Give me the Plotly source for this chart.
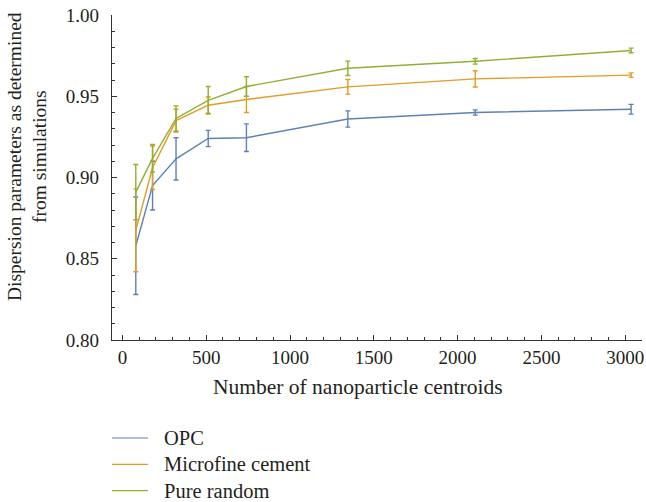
import plotly.graph_objects as go

# Number of nanoparticle centroids per simulation
centroids = [80, 180, 320, 512, 740, 1345, 2105, 3035]

# Mean dispersion parameter and standard deviation for each cement type
opc_mean = [0.858, 0.895, 0.9115, 0.924, 0.9245, 0.936, 0.940, 0.942]
opc_err = [0.030, 0.015, 0.013, 0.005, 0.0085, 0.005, 0.0016, 0.003]

micro_mean = [0.8675, 0.906, 0.935, 0.9445, 0.948, 0.9558, 0.9607, 0.963]
micro_err = [0.0255, 0.0134, 0.007, 0.005, 0.008, 0.0045, 0.005, 0.0014]

rand_mean = [0.891, 0.9118, 0.9363, 0.9475, 0.956, 0.9672, 0.9715, 0.9782]
rand_err = [0.017, 0.0085, 0.0078, 0.0085, 0.006, 0.0044, 0.0017, 0.0014]

series = [
    ("OPC", opc_mean, opc_err, "#5E81B5"),
    ("Microfine cement", micro_mean, micro_err, "#E19C24"),
    ("Pure random", rand_mean, rand_err, "#8FB032"),
]

FONT = "Liberation Serif"
TEXT = "#231f20"
W, H = 646, 502
L, R, T, B = 112, 4, 15, 162
PW, PH = W - L - R, H - T - B

fig = go.Figure()
for name, mean, err, color in series:
    fig.add_trace(go.Scatter(
        x=centroids, y=mean, name=name, mode="lines",
        line=dict(color=color, width=1.4),
        error_y=dict(type="data", array=err, visible=True,
                     color=color, thickness=1.4, width=2.5),
        showlegend=False,
    ))

# Legend below the chart: a short coloured line and the series name per row
LEG_X0, LEG_X1, LEG_TEXT_X = 112, 148, 162
LEG_Y0, LEG_DY = 438, 26.3
for i, (name, _, _, color) in enumerate(series):
    yy = LEG_Y0 + i * LEG_DY
    fig.add_shape(
        type="line", xref="paper", yref="paper",
        x0=(LEG_X0 - L) / PW, x1=(LEG_X1 - L) / PW,
        y0=((H - B) - yy) / PH, y1=((H - B) - yy) / PH,
        line=dict(color=color, width=1.2),
    )
    fig.add_annotation(
        text=name, xref="paper", yref="paper",
        x=(LEG_TEXT_X - L) / PW, y=((H - B) - yy) / PH,
        xanchor="left", yanchor="middle", showarrow=False,
        font=dict(family=FONT, size=20.5, color=TEXT),
    )

axis_common = dict(
    showline=True, linecolor="#333333", linewidth=1.2,
    ticks="inside", ticklen=5, tickwidth=1, tickcolor="#333333",
    showgrid=False, zeroline=False, automargin=False,
    tickfont=dict(family=FONT, size=19, color=TEXT),
)

fig.update_xaxes(
    range=[-62, 3100], tickvals=[0, 500, 1000, 1500, 2000, 2500, 3000],
    ticklabelstandoff=0,
    minor=dict(ticks="inside", ticklen=3, dtick=100, tick0=0,
               tickcolor="#333333", showgrid=False),
    **axis_common,
)
fig.update_yaxes(
    range=[0.80, 1.00], dtick=0.05, tick0=0.80, tickformat=".2f",
    ticklabelstandoff=8,
    minor=dict(ticks="inside", ticklen=3, dtick=0.01, tick0=0.80,
               tickcolor="#333333", showgrid=False),
    **axis_common,
)

fig.add_annotation(
    text="Number of nanoparticle centroids", xref="paper", yref="paper",
    x=(358 - L) / PW, y=-(387 - (H - B)) / PH, showarrow=False,
    font=dict(family=FONT, size=21.5, color=TEXT),
    xanchor="center", yanchor="middle",
)
fig.add_annotation(
    text="Dispersion parameters as determined<br>from simulations",
    xref="paper", yref="paper",
    x=-(L - 27) / PW, y=((H - B) - 157) / PH, showarrow=False,
    textangle=-90, font=dict(family=FONT, size=19.5, color=TEXT),
    xanchor="center", yanchor="middle",
)

fig.update_layout(
    width=W, height=H,
    margin=dict(l=L, r=R, t=T, b=B, autoexpand=False),
    paper_bgcolor="white", plot_bgcolor="white",
    showlegend=False,
)

fig.write_html("out.html")
